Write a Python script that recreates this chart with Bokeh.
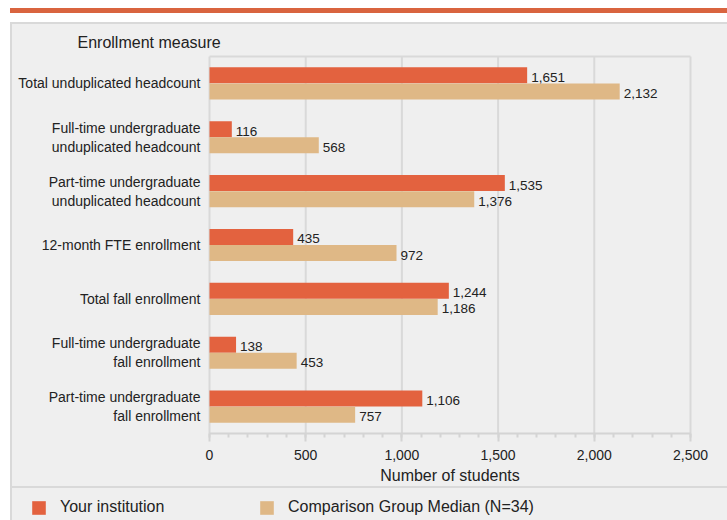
from bokeh.plotting import figure
from bokeh.models import (ColumnDataSource, Range1d, Legend, LegendItem, LinearAxis,
                          NumeralTickFormatter, FixedTicker, Label)
from bokeh.transform import dodge
from bokeh.core.properties import value
from bokeh.embed import file_html
from bokeh.resources import INLINE

categories = [
    "Total unduplicated headcount",
    "Full-time undergraduate\nunduplicated headcount",
    "Part-time undergraduate\nunduplicated headcount",
    "12-month FTE enrollment",
    "Total fall enrollment",
    "Full-time undergraduate\nfall enrollment",
    "Part-time undergraduate\nfall enrollment",
]
your_institution = [1651, 116, 1535, 435, 1244, 138, 1106]
comparison_median = [2132, 568, 1376, 972, 1186, 453, 757]
x_ticks = [0, 500, 1000, 1500, 2000, 2500]
series_names = ["Your institution", "Comparison Group Median (N=34)"]
y_title = "Enrollment measure"
x_title = "Number of students"

# layout (pixels)
W, H = 727, 520
PLOT_LEFT, PLOT_RIGHT, PLOT_TOP, PLOT_BOTTOM = 209, 690, 56, 433
X_MAX = x_ticks[-1]

ORANGE = "#e3623f"
TAN = "#dfb886"
RULE = "#d9643f"
BG = "#efefef"
GRID = "#d9d9d9"
AXIS = "#d4d4d4"
TXT = "#222222"
FONT = "Liberation Sans"

panel_css = ", ".join([
    f"linear-gradient({RULE},{RULE}) 10px 8px / 717px 5px no-repeat",
    f"linear-gradient({GRID},{GRID}) 10px 22px / 717px 2px no-repeat",
    f"linear-gradient({GRID},{GRID}) 10px 22px / 2px 498px no-repeat",
    f"linear-gradient({GRID},{GRID}) 10px 486px / 717px 2px no-repeat",
    f"linear-gradient({BG},{BG}) 10px 22px / 717px 498px no-repeat",
    "#ffffff",
])

n = len(categories)
y_pos = [n - 1 - i for i in range(n)]  # first category on top

src = ColumnDataSource(dict(
    y=y_pos,
    you=your_institution,
    comp=comparison_median,
    you_lbl=[f"{v:,}" for v in your_institution],
    comp_lbl=[f"{v:,}" for v in comparison_median],
))

# ranges chosen so the plotting area lands at PLOT_* inside a full-canvas frame
sx = (PLOT_RIGHT - PLOT_LEFT) / X_MAX
band = (PLOT_BOTTOM - PLOT_TOP) / n
x_range = Range1d(-PLOT_LEFT / sx, (W - PLOT_LEFT) / sx)
y_range = Range1d(-0.5 - (H - PLOT_BOTTOM) / band, n - 0.5 + PLOT_TOP / band)

p = figure(width=W, height=H, title=None, x_range=x_range, y_range=y_range,
           x_axis_location=None, y_axis_location=None,
           output_backend="svg", toolbar_location=None, min_border=0,
           background_fill_alpha=0, border_fill_alpha=0, outline_line_color=None,
           styles={"background": panel_css})
p.grid.visible = False

# grid lines and top border of the plotting area
p.segment(x0=x_ticks, x1=x_ticks, y0=[-0.5] * len(x_ticks), y1=[n - 0.5] * len(x_ticks),
          line_color=GRID, line_width=2)
p.segment(x0=[0], x1=[X_MAX], y0=[n - 0.5], y1=[n - 0.5], line_color=GRID, line_width=2)

r_you = p.hbar(y=dodge("y", 0.15), left=0, right="you", height=0.297,
               fill_color=ORANGE, line_color=None, source=src)
r_comp = p.hbar(y=dodge("y", -0.15), left=0, right="comp", height=0.297,
                fill_color=TAN, line_color=None, source=src)

p.text(x="you", y=dodge("y", 0.15), text="you_lbl", source=src,
       x_offset=4, y_offset=2, text_baseline="middle", text_align="left",
       text_font=value(FONT), text_font_size="13.5px", text_color=TXT)
p.text(x="comp", y=dodge("y", -0.15), text="comp_lbl", source=src,
       x_offset=4, y_offset=2, text_baseline="middle", text_align="left",
       text_font=value(FONT), text_font_size="13.5px", text_color=TXT)

xa = LinearAxis(fixed_location=-0.5, bounds=(0, X_MAX),
                ticker=FixedTicker(ticks=x_ticks, minor_ticks=list(range(0, X_MAX + 1, 100))),
                formatter=NumeralTickFormatter(format="0,0"))
xa.axis_line_color = AXIS
xa.axis_line_width = 2
xa.major_tick_line_color = AXIS
xa.major_tick_line_width = 2
xa.major_tick_out = 8
xa.major_tick_in = 0
xa.minor_tick_line_color = AXIS
xa.minor_tick_line_width = 2
xa.minor_tick_out = 4
xa.minor_tick_in = 0
xa.major_label_standoff = 8
xa.major_label_text_font = FONT
xa.major_label_text_font_size = "14px"
xa.major_label_text_color = TXT
xa.axis_label = x_title
xa.axis_label_text_font = FONT
xa.axis_label_text_font_size = "16px"
xa.axis_label_text_font_style = "normal"
xa.axis_label_text_color = TXT
xa.axis_label_standoff = 4
p.add_layout(xa, "below")

ya = LinearAxis(fixed_location=0, bounds=(-0.5, n - 0.5),
                ticker=FixedTicker(ticks=y_pos, minor_ticks=[]),
                major_label_overrides={y: c for y, c in zip(y_pos, categories)})
ya.axis_line_color = None
ya.major_tick_line_color = None
ya.minor_tick_line_color = None
ya.major_tick_out = 0
ya.major_tick_in = 0
ya.major_label_standoff = 9
ya.major_label_text_font = FONT
ya.major_label_text_font_size = "14px"
ya.major_label_text_color = TXT
p.add_layout(ya, "left")

p.add_layout(Label(x=77, y=H - 42, x_units="screen", y_units="screen", text=y_title,
                   text_baseline="middle", text_align="left", text_font=FONT,
                   text_font_size="16px", text_color=TXT))

legend = Legend(items=[LegendItem(label=series_names[0], renderers=[r_you]),
                       LegendItem(label=series_names[1], renderers=[r_comp])],
                orientation="horizontal", location=(30, 4), padding=0, margin=0,
                spacing=0, glyph_width=17, glyph_height=17, label_standoff=13,
                label_width=198, label_height=17, label_text_font=FONT,
                label_text_font_size="16px", label_text_color=TXT,
                border_line_color=None, background_fill_alpha=0)
p.add_layout(legend)

open("out.html", "w").write(file_html(p, INLINE))
